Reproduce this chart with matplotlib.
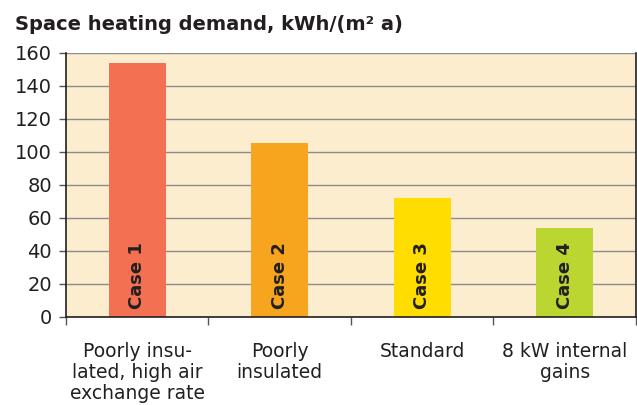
import matplotlib
matplotlib.use("Agg")
import matplotlib.pyplot as plt

# data
cases = ["Case 1", "Case 2", "Case 3", "Case 4"]
labels = ["Poorly insu-\nlated, high air\nexchange rate", "Poorly\ninsulated", "Standard", "8 kW internal\ngains"]
demand = [154, 105.5, 72, 54]
colors = ["#F37052", "#F7A51E", "#FFDD00", "#BCD631"]

def main():
    plt.rcParams["font.family"] = "DejaVu Sans"
    txt = "#231F20"

    fig = plt.figure(figsize=(6.37, 4.05), dpi=100)
    ax = fig.add_axes([0.1036, 0.2173, 0.8948, 0.6519])
    ax.set_facecolor("#FDEDCF")

    pos = list(range(len(cases)))
    ax.bar(pos, demand, width=0.4, color=colors, zorder=2)

    # case names inside the bars
    for p, c in zip(pos, cases):
        ax.text(p, 5, c, rotation=90, ha="center", va="bottom",
                fontsize=13, fontweight="bold", color=txt, zorder=3)

    ax.set_xlim(-0.5, len(cases) - 0.5)
    ax.set_ylim(0, 160)
    ax.set_yticks(range(0, 161, 20))
    ax.yaxis.grid(True, color="#8C8C8C", lw=1, zorder=1)
    ax.set_axisbelow(True)

    # boundaries as major ticks, labels on minor ticks
    ax.set_xticks([p - 0.5 for p in pos] + [len(cases) - 0.5])
    ax.set_xticklabels([])
    ax.set_xticks(pos, minor=True)
    ax.set_xticklabels(labels, minor=True, fontsize=13.5, color=txt, linespacing=1.15)
    ax.tick_params(axis="x", which="major", length=6, width=1, color="#555555")
    ax.tick_params(axis="x", which="minor", length=0, pad=18)
    ax.tick_params(axis="y", length=5, width=1, color="#555555", labelsize=14, labelcolor=txt, pad=5)

    ax.spines["top"].set_visible(False)
    for s in ["left", "bottom", "right"]:
        ax.spines[s].set_color("#231F20")
        ax.spines[s].set_linewidth(1.2)

    fig.text(0.023, 0.925, "Space heating demand, kWh/(m² a)", fontsize=14,
             fontweight="bold", color=txt, ha="left", va="baseline")

    fig.savefig("out.png", dpi=100)

if __name__ == "__main__":
    main()
